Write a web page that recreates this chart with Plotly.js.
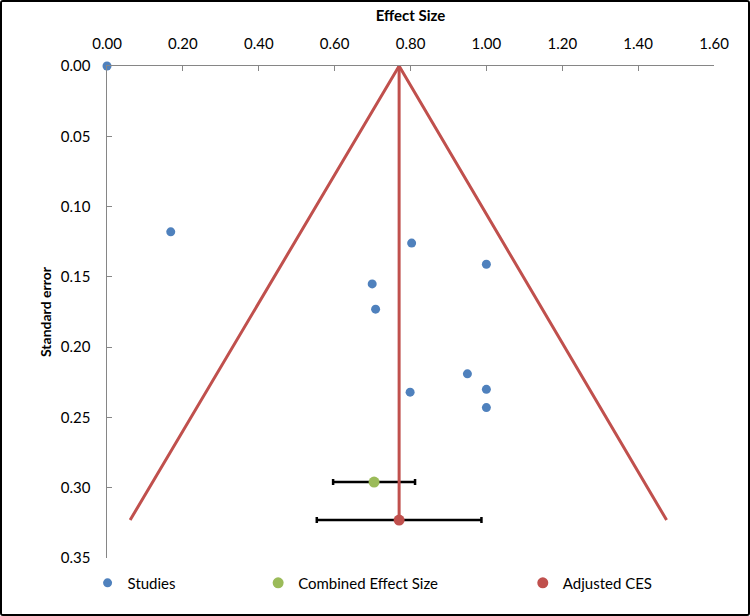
<!DOCTYPE html>
<html><head><meta charset="utf-8">
<script src="https://cdn.plot.ly/plotly-3.0.1.min.js"></script>
<style>
html,body{margin:0;padding:0;background:#fff}
#frame{width:750px;height:616px;box-sizing:border-box;border:2px solid #000;border-radius:3px;overflow:hidden;background:#fff}
#chart{width:746px;height:612px}
</style>
</head><body><div id="frame"><div id="chart"></div></div>
<script>
// Studies
const studyES = [0.000, 0.168, 0.803, 1.000, 0.699, 0.708, 0.950, 1.000, 0.799, 1.000];
const studySE = [0.000, 0.118, 0.126, 0.141, 0.155, 0.173, 0.219, 0.230, 0.232, 0.243];
// Combined effect size
const combinedES = [0.704];
const combinedSE = [0.296];
const combinedCI = [0.108];
// Adjusted CES
const adjustedES = [0.770];
const adjustedSE = [0.323];
const adjustedCI = [0.217];
// Funnel
const funnelX = [0.061, 0.770, 1.475];
const funnelY = [0.323, 0.000, 0.323];
const centerX = [0.770, 0.770];
const centerY = [0.000, 0.323];
// Ticks
const xTicks = [0, 0.2, 0.4, 0.6, 0.8, 1.0, 1.2, 1.4, 1.6];
const yTicks = [0, 0.05, 0.10, 0.15, 0.20, 0.25, 0.30, 0.35];
const seriesNames = ['Studies', 'Combined Effect Size', 'Adjusted CES'];

const BLUE = '#4F81BD', GREEN = '#9BBB59', RED = '#C0504D', AX = '#868686';

const traces = [
  {x: studyES, y: studySE, mode: 'markers', type: 'scatter', name: seriesNames[0],
   marker: {color: BLUE, size: 9}, cliponaxis: false, legend: 'legend'},
  {x: funnelX, y: funnelY, mode: 'lines', type: 'scatter', showlegend: false,
   line: {color: RED, width: 3}, hoverinfo: 'skip'},
  {x: combinedES, y: combinedSE, mode: 'markers', type: 'scatter', name: seriesNames[1],
   marker: {color: GREEN, size: 11}, legend: 'legend2',
   error_x: {type: 'data', array: combinedCI, symmetric: true, color: '#000', thickness: 2.5, width: 3}},
  {x: centerX, y: centerY, mode: 'lines', type: 'scatter', showlegend: false,
   line: {color: RED, width: 3}, hoverinfo: 'skip'},
  {x: adjustedES, y: adjustedSE, mode: 'markers', type: 'scatter', name: seriesNames[2],
   marker: {color: RED, size: 11}, legend: 'legend3',
   error_x: {type: 'data', array: adjustedCI, symmetric: true, color: '#000', thickness: 2.5, width: 3}}
];

const legBase = {orientation: 'h', yanchor: 'middle', y: -0.051, xanchor: 'left',
  font: {family: 'Lato', size: 15, color: '#000'}, bgcolor: 'rgba(0,0,0,0)', itemwidth: 30};

const layout = {
  width: 746, height: 612,
  margin: {l: 105, r: 34, t: 64, b: 56},
  paper_bgcolor: '#fff', plot_bgcolor: '#fff',
  font: {family: 'Lato', size: 15, color: '#000'},
  xaxis: {
    side: 'top', range: [0, 1.6], tickvals: xTicks, tickformat: '.2f',
    ticks: 'inside', ticklen: 5, tickwidth: 1, tickcolor: AX, ticklabelstandoff: 10,
    showline: true, linecolor: AX, linewidth: 1.5, showgrid: false, zeroline: false,
    tickfont: {family: 'Lato', size: 15, color: '#000'},
    title: {text: '<b>Effect Size</b>', font: {family: 'Lato', size: 15, color: '#000'}, standoff: 8}
  },
  yaxis: {
    range: [0.35, 0], tickvals: yTicks, tickformat: '.2f',
    ticks: 'inside', ticklen: 5, tickwidth: 1, tickcolor: AX, ticklabelstandoff: 12,
    showline: true, linecolor: AX, linewidth: 1.5, showgrid: false, zeroline: false,
    tickfont: {family: 'Lato', size: 15, color: '#000'},
    title: {text: '<b>Standard error</b>', font: {family: 'Lato', size: 14, color: '#000'}, standoff: 6}
  },
  legend: Object.assign({}, legBase, {x: -0.032}),
  legend2: Object.assign({}, legBase, {x: 0.249}),
  legend3: Object.assign({}, legBase, {x: 0.685}),
  showlegend: true
};

Plotly.newPlot('chart', traces, layout, {displayModeBar: false, staticPlot: true});
</script>
</body></html>
